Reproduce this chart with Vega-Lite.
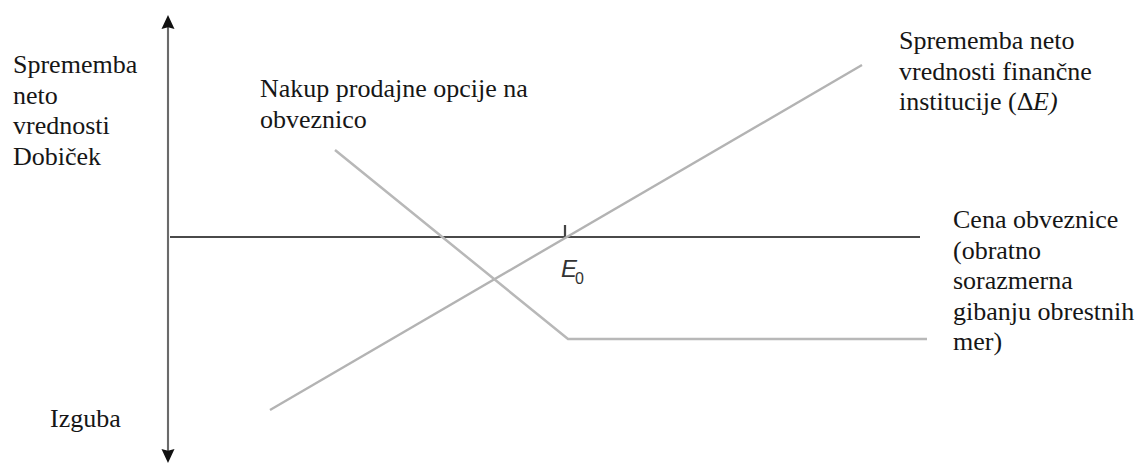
{
  "$schema": "https://vega.github.io/schema/vega-lite/v6.json",
  "width": 1139,
  "height": 465,
  "autosize": "none",
  "padding": 0,
  "background": "white",
  "config": {"view": {"stroke": null}},
  "datasets": {
    "lines": [
      {"series": "axis_h", "i": 0, "x": -398, "y": 0},
      {"series": "axis_h", "i": 1, "x": 352, "y": 0},
      {"series": "axis_v", "i": 0, "x": -400, "y": 215},
      {"series": "axis_v", "i": 1, "x": -400, "y": -220},
      {"series": "tick", "i": 0, "x": -3, "y": 0},
      {"series": "tick", "i": 1, "x": -3, "y": 12},
      {"series": "deltaE", "i": 0, "x": -298, "y": -173},
      {"series": "deltaE", "i": 1, "x": 294, "y": 172},
      {"series": "option", "i": 0, "x": -233, "y": 87},
      {"series": "option", "i": 1, "x": 0, "y": -102},
      {"series": "option", "i": 2, "x": 359, "y": -102}
    ],
    "arrows": [
      {"dir": "up", "x": -400, "y": 215},
      {"dir": "down", "x": -400, "y": -219}
    ],
    "labels": [
      {"group": "serif", "x": -555, "y": 164, "text": "Sprememba\nneto\nvrednosti\nDobiček"},
      {"group": "serif", "x": -518, "y": -190, "text": "Izguba"},
      {"group": "serif", "x": -308, "y": 140, "text": "Nakup prodajne opcije na\nobveznico"},
      {"group": "serif", "x": 331, "y": 188, "text": "Sprememba neto\nvrednosti finančne\ninstitucije (Δ"},
      {"group": "serif_italic", "x": 465, "y": 127, "text": "E)"},
      {"group": "serif", "x": 385, "y": 9, "text": "Cena obveznice\n(obratno\nsorazmerna\ngibanju obrestnih\nmer)"},
      {"group": "sans_italic", "x": -7, "y": -40, "text": "E"},
      {"group": "sans_sub", "x": 7, "y": -47, "text": "0"}
    ]
  },
  "encoding": {
    "x": {"field": "x", "type": "quantitative", "scale": {"domain": [-568, 571], "zero": false, "nice": false}, "axis": null},
    "y": {"field": "y", "type": "quantitative", "scale": {"domain": [-228, 237], "zero": false, "nice": false}, "axis": null}
  },
  "layer": [
    {
      "data": {"name": "lines"},
      "mark": {"type": "line", "strokeCap": "butt"},
      "encoding": {
        "detail": {"field": "series"},
        "order": {"field": "i", "type": "quantitative"},
        "color": {"field": "series", "type": "nominal", "legend": null,
          "scale": {"domain": ["axis_h", "axis_v", "tick", "deltaE", "option"], "range": ["#4a4a4a", "#6a6a6a", "#444444", "#b3b3b3", "#b8b8b8"]}},
        "size": {"field": "series", "type": "nominal", "legend": null,
          "scale": {"domain": ["axis_h", "axis_v", "tick", "deltaE", "option"], "range": [2, 2.5, 2, 2.5, 3]}}
      }
    },
    {
      "data": {"name": "arrows"},
      "mark": {"type": "point", "filled": true, "color": "#111111", "opacity": 1, "size": 196},
      "encoding": {
        "shape": {"field": "dir", "type": "nominal", "legend": null,
          "scale": {"domain": ["up", "down"], "range": ["M0,-1L0.93,1L0,0.75L-0.93,1Z", "M0,1L0.93,-1L0,-0.75L-0.93,-1Z"]}}
      }
    },
    {
      "data": {"name": "labels"},
      "transform": [{"filter": "datum.group === 'serif'"}],
      "mark": {"type": "text", "font": "'Liberation Serif', 'DejaVu Serif', serif", "fontSize": 26, "align": "left", "baseline": "alphabetic", "lineBreak": "\n", "lineHeight": 30.5, "color": "#161616"},
      "encoding": {"text": {"field": "text"}}
    },
    {
      "data": {"name": "labels"},
      "transform": [{"filter": "datum.group === 'serif_italic'"}],
      "mark": {"type": "text", "font": "'Liberation Serif', 'DejaVu Serif', serif", "fontSize": 26, "fontStyle": "italic", "align": "left", "baseline": "alphabetic", "color": "#161616"},
      "encoding": {"text": {"field": "text"}}
    },
    {
      "data": {"name": "labels"},
      "transform": [{"filter": "datum.group === 'sans_italic'"}],
      "mark": {"type": "text", "font": "'Liberation Sans', Arial, sans-serif", "fontSize": 24, "fontStyle": "italic", "align": "left", "baseline": "alphabetic", "color": "#333333"},
      "encoding": {"text": {"field": "text"}}
    },
    {
      "data": {"name": "labels"},
      "transform": [{"filter": "datum.group === 'sans_sub'"}],
      "mark": {"type": "text", "font": "'Liberation Sans', Arial, sans-serif", "fontSize": 16, "align": "left", "baseline": "alphabetic", "color": "#333333"},
      "encoding": {"text": {"field": "text"}}
    }
  ]
}
